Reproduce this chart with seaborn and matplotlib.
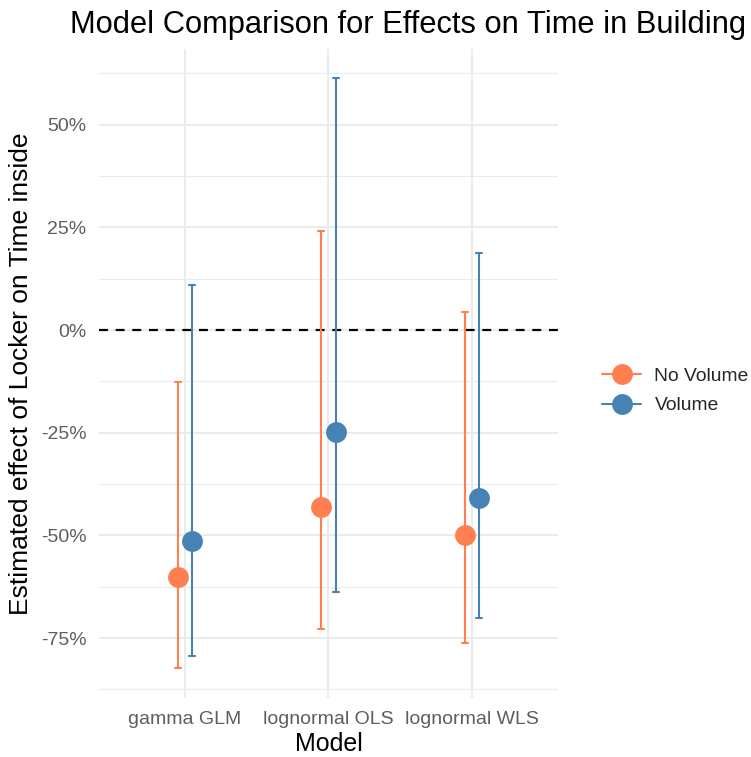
import numpy as np
import pandas as pd
import matplotlib
matplotlib.use("Agg")
import matplotlib.pyplot as plt
from matplotlib.lines import Line2D
from matplotlib.ticker import PercentFormatter, FixedLocator
import seaborn as sns

# Estimated effect (%) of locker on time inside, with 95% interval bounds
models = ["gamma GLM", "lognormal OLS", "lognormal WLS"]
specs = ["No Volume", "Volume"]
est_no_volume = [-60.2, -43.0, -50.0]
low_no_volume = [-82.4, -72.9, -76.1]
high_no_volume = [-12.6, 24.1, 4.5]
est_volume = [-51.3, -24.8, -41.0]
low_volume = [-79.4, -63.9, -70.2]
high_volume = [11.0, 61.3, 18.7]

palette = {"No Volume": "#FF7F50", "Volume": "#4682B4"}

# Long table: each model/spec contributes its lower bound, estimate and upper bound;
# the median gives the estimate and the full-range interval gives the bounds.
rows = []
for spec, est, lo, hi in [("No Volume", est_no_volume, low_no_volume, high_no_volume),
                          ("Volume", est_volume, low_volume, high_volume)]:
    for m, e, l, h in zip(models, est, lo, hi):
        for v in (l, e, h):
            rows.append({"Model": m, "Spec": spec, "Effect": v})
df = pd.DataFrame(rows)

sns.set_theme(style="whitegrid")
plt.rcParams["font.family"] = ["Liberation Sans", "DejaVu Sans"]
plt.rcParams["axes.unicode_minus"] = False

fig = plt.figure(figsize=(7.51, 7.57), dpi=100)
ax = fig.add_axes([0.1318, 0.0779, 0.743 - 0.1318, 0.9357 - 0.0779])

ax.axhline(0, color="black", linestyle=(0, (4, 3.5)), linewidth=1.6, zorder=1)

sns.pointplot(
    data=df, x="Model", y="Effect", hue="Spec", order=models, hue_order=specs,
    palette=palette, estimator="median", errorbar=("pi", 100),
    dodge=0.1, linestyles="none", markers="o", capsize=0.04,
    err_kws={"linewidth": 1.5}, markersize=15, markeredgewidth=0,
    legend=False, ax=ax, zorder=3,
)

ax.set_xlim(-0.6, 2.6)
ax.set_ylim(-89.6, 68.5)
ax.yaxis.set_major_locator(FixedLocator([-75, -50, -25, 0, 25, 50]))
ax.yaxis.set_minor_locator(FixedLocator([-87.5, -62.5, -37.5, -12.5, 12.5, 37.5, 62.5]))
ax.yaxis.set_major_formatter(PercentFormatter(decimals=0))

ax.set_facecolor("white")
for s in ax.spines.values():
    s.set_visible(False)
ax.grid(True, which="major", color="#EBEBEB", linewidth=1.4)
ax.grid(True, which="minor", axis="y", color="#EBEBEB", linewidth=0.8)
ax.set_axisbelow(True)
ax.tick_params(axis="both", which="both", length=0, labelcolor="#5E5E5E")
ax.tick_params(axis="y", pad=9, labelsize=14)
ax.tick_params(axis="x", pad=9, labelsize=14)

ax.set_xlabel("Model", fontsize=18, color="black", labelpad=3)
ax.set_ylabel("Estimated effect of Locker on Time inside", fontsize=19,
              color="black", labelpad=6)

fig.text(70 / 751, 1 - 25 / 757, "Model Comparison for Effects on Time in Building",
         fontsize=22.2, ha="left", va="center", color="black")

handles = [Line2D([], [], color=palette[s], marker="o", markersize=15,
                  markeredgewidth=0, linewidth=1.5) for s in specs]
fig.legend(handles, specs, loc="center left", bbox_to_anchor=(585 / 751, 1 - 391 / 757),
           frameon=False, fontsize=13.9, handlelength=2.0, labelspacing=0.6,
           handletextpad=0.7)

fig.savefig("out.png", dpi=100, facecolor="white")
